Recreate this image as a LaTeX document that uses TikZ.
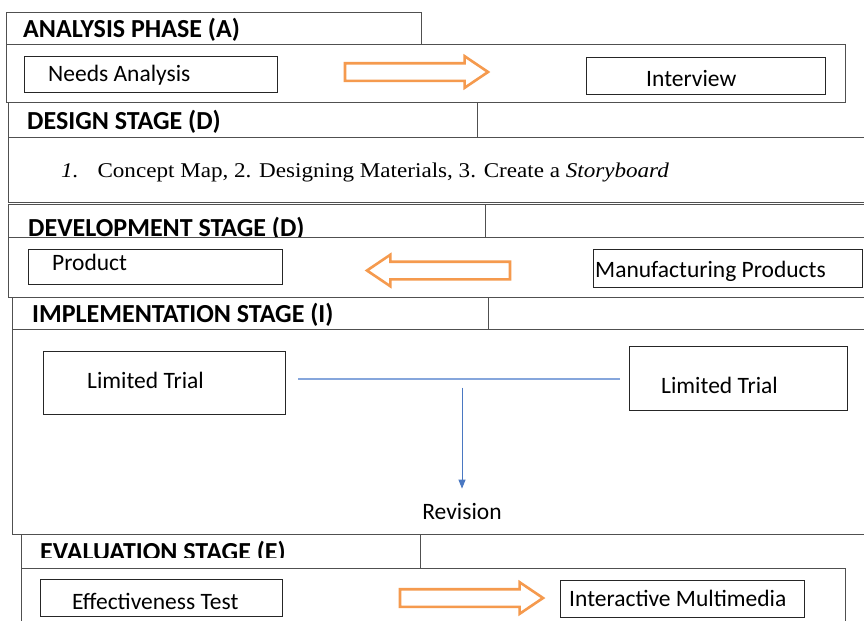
\documentclass[tikz,border=0pt]{standalone}
\usepackage{fontspec}
\setmainfont{Carlito}
\newfontfamily\cambfont[FakeStretch=1.1]{Liberation Serif}
\usetikzlibrary{shapes.arrows,arrows.meta,calc}
\definecolor{oran}{HTML}{F59A4E}
\definecolor{blone}{HTML}{86A6DC}
\definecolor{bltwo}{HTML}{4A78C2}
\definecolor{frm}{HTML}{505050}
\begin{document}
\begin{tikzpicture}[x=1pt,y=-1pt,
 sect/.style={draw=frm,line width=0.8pt},
 box/.style={draw=black!85,line width=1.2pt,inner sep=0pt,anchor=north west},
 hd/.style={font=\bfseries\fontsize{26}{30}\selectfont,inner sep=0pt,anchor=base west},
 txt/.style={font=\fontsize{23.5}{28}\selectfont,inner sep=0pt,anchor=base west},
 oarrow/.style={single arrow,draw=oran,line width=2.6pt,fill=white,inner sep=0pt,
   inner ysep=7.5pt,minimum height=143pt,single arrow head extend=7pt,single arrow tip angle=68},
 bline/.style={draw=blone,line width=2pt},
 barrow/.style={draw=bltwo,line width=1pt,-{Triangle[width=7pt,length=9pt]}}]
\useasboundingbox (0,0) rectangle (864,621);
\fill[white] (0,0) rectangle (864,621);
% ---- Analysis
\draw[sect] (6,12) rectangle (421,44);
\draw[sect] (6,44) rectangle (845,102);
\node[hd] (anah) at (23,37) {ANALYSIS PHASE (A)};
\node[box,minimum width=253pt,minimum height=36pt] (na) at (24,56) {};
\node[txt] (natx) at (48,81) {Needs Analysis};
\node[box,minimum width=239pt,minimum height=37pt] (iv) at (586,57) {};
\node[txt] (ivtx) at (646,86) {Interview};
\node[oarrow] (aa) at (410,72) {};
% ---- Design
\draw[sect] (8,102) -- (8,202) -- (864,202);
\draw[sect] (8,137) -- (864,137);
\draw[sect] (477,102) -- (477,137);
\node[hd] (desh) at (27,129.5) {DESIGN STAGE (D)};
\node[inner sep=0pt,anchor=base west,font=\cambfont\fontsize{21}{25}\selectfont] (dest) at (61,177)
  {\textit{1.}\hspace{19pt}Concept Map, 2. Designing Materials, 3. Create a \textit{Storyboard}};
% ---- Development
\draw[sect] (8,204) -- (864,204);
\draw[sect] (8,204) -- (8,297) -- (864,297);
\draw[sect] (8,237) -- (864,237);
\draw[sect] (485,204) -- (485,237);
\begin{scope}
\clip (8,204) rectangle (485,236.6);
\node[hd] (devh) at (28,236) {DEVELOPMENT STAGE (D)};
\end{scope}
\node[box,minimum width=254pt,minimum height=35pt] (pr) at (28,249) {};
\node[txt] (prtx) at (52,270) {Product};
\node[box,minimum width=269pt,minimum height=38pt] (mp) at (593,249) {};
\node[txt] (mptx) at (595,277) {Manufacturing Products};
\node[oarrow,shape border rotate=180] (da) at (445,270.5) {};
% ---- Implementation
\draw[sect] (12,297) -- (12,534) -- (864,534);
\draw[sect] (12,329) -- (864,329);
\draw[sect] (488,297) -- (488,329);
\node[hd] (imph) at (32,322) {IMPLEMENTATION STAGE (I)};
\node[box,minimum width=242pt,minimum height=63pt] (lt1) at (43,351) {};
\node[txt] (lt1tx) at (87,388) {Limited Trial};
\node[box,minimum width=218pt,minimum height=64pt] (lt2) at (629,346) {};
\node[txt] (lt2tx) at (661,393) {Limited Trial};
\node[txt,anchor=base] (rev) at (462,519) {Revision};
\draw[bline] ($(lt1.east |- lt2.west)+(12,0)$) -- ($(lt2.west)+(-9,0)$);
\draw[barrow] ($(rev |- lt2.west)+(0,9)$) -- ($(rev.north)+(0,-14)$);
% ---- Evaluation
\draw[sect] (21,534) -- (21,621);
\draw[sect] (21,568) -- (845,568) -- (845,621);
\draw[sect] (420,534) -- (420,568);
\begin{scope}
\clip (21,534) rectangle (420,557);
\node[hd] (evah) at (40,560) {EVALUATION STAGE (E)};
\end{scope}
\node[box,minimum width=242pt,minimum height=37pt] (et) at (40,579) {};
\node[txt] (ettx) at (72,609) {Effectiveness Test};
\node[box,minimum width=244pt,minimum height=37pt] (im) at (560,580) {};
\node[txt] (imtx) at (569,606) {Interactive Multimedia};
\node[oarrow] (ea) at (465,598) {};
\end{tikzpicture}
\end{document}
